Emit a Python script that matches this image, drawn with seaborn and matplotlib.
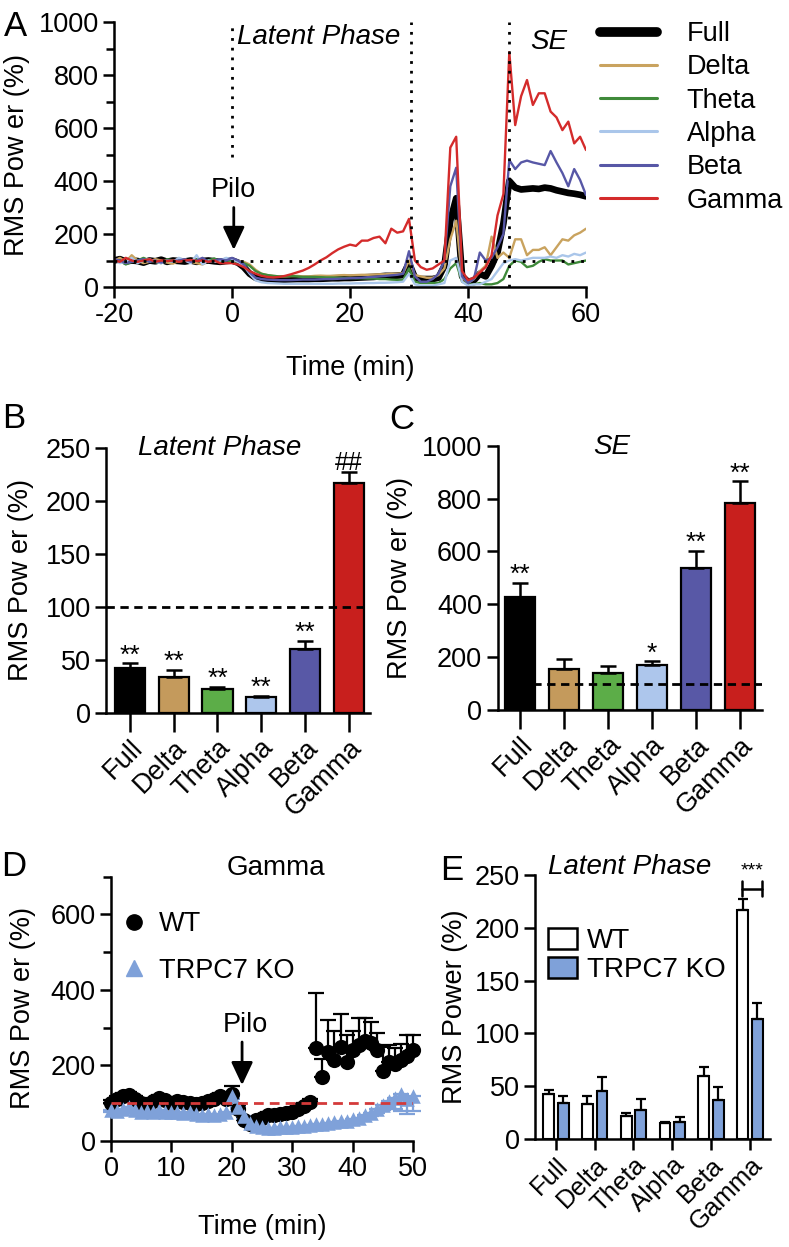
import numpy as np
import pandas as pd
import matplotlib
matplotlib.use('Agg')
import matplotlib.pyplot as plt
import seaborn as sns
from matplotlib.lines import Line2D
from matplotlib.patches import Patch

# ---------------- data ----------------
bands = ['Full', 'Delta', 'Theta', 'Alpha', 'Beta', 'Gamma']
line_colors = ['#000000', '#c9a35f', '#3f8a3a', '#aac6ea', '#5757a6', '#d42b2b']
bar_colors = ['#000000', '#c49a5c', '#5cad48', '#adc6ec', '#5858a6', '#c81f1d']

time_a = list(range(-20, 61))
full_a = [100, 105, 96, 100, 98, 92, 100, 97, 103, 95, 100, 98, 96, 100, 95, 98, 100, 97, 95, 98, 100,
          92, 75, 50, 35, 30, 28, 28, 27, 28, 29, 30, 30, 30, 31, 31, 32, 33, 33, 34, 34, 35, 36, 37, 38, 40, 42, 42, 43, 45,
          90, 35, 30, 30, 30, 35, 80, 250, 335, 40, 20, 25, 50, 40, 80, 130, 240, 400, 375, 368, 370, 372, 370, 375, 372, 365, 360, 355, 352, 348, 342]
delta_a = [98, 110, 95, 120, 100, 90, 95, 105, 100, 92, 88, 100, 105, 95, 90, 85, 100, 95, 102, 90, 95,
           98, 95, 85, 65, 50, 45, 42, 40, 40, 41, 42, 40, 40, 42, 43, 42, 42, 44, 45, 44, 45, 46, 46, 47, 48, 48, 50, 50, 52,
           100, 45, 40, 35, 35, 45, 70, 180, 250, 35, 15, 30, 60, 80, 190, 110, 130, 110, 180, 180, 120, 140, 140, 150, 120, 150, 180, 175, 195, 205, 220]
theta_a = [95, 100, 85, 95, 100, 110, 100, 95, 90, 105, 100, 95, 100, 98, 105, 92, 100, 108, 95, 100, 100,
           95, 90, 80, 60, 50, 45, 42, 40, 40, 42, 40, 38, 38, 38, 37, 36, 36, 35, 34, 34, 33, 33, 32, 32, 30, 30, 28, 27, 26,
           70, 20, 15, 15, 15, 15, 30, 70, 90, 20, 10, 10, 15, 10, 10, 15, 30, 80, 100, 95, 75, 80, 95, 105, 100, 100, 100, 85, 90, 95, 100]
alpha_a = [100, 90, 95, 110, 90, 100, 105, 95, 90, 100, 95, 110, 100, 90, 120, 85, 100, 95, 100, 110, 105,
           95, 80, 50, 25, 18, 15, 14, 13, 12, 12, 12, 12, 12, 12, 12, 12, 12, 13, 13, 13, 14, 14, 15, 15, 16, 16, 17, 18, 20,
           50, 10, 5, 5, 5, 10, 15, 100, 110, 20, 5, 10, 10, 20, 30, 60, 90, 100, 105, 100, 105, 110, 110, 110, 115, 110, 120, 115, 125, 120, 130]
beta_a = [105, 100, 90, 95, 100, 105, 95, 100, 92, 100, 98, 100, 105, 95, 100, 110, 95, 100, 105, 100, 110,
          100, 85, 55, 35, 30, 28, 27, 26, 26, 26, 27, 28, 28, 28, 29, 30, 30, 31, 32, 33, 34, 35, 37, 38, 40, 42, 44, 46, 50,
          135, 40, 20, 20, 30, 50, 100, 380, 450, 40, 15, 30, 130, 100, 110, 150, 200, 479, 445, 470, 477, 470, 465, 460, 513, 470, 430, 380, 445, 404, 347]
gamma_a = [100, 95, 110, 100, 95, 100, 105, 95, 100, 98, 100, 95, 100, 102, 98, 100, 95, 100, 90, 90, 90,
           85, 75, 60, 50, 42, 38, 36, 38, 42, 48, 55, 62, 72, 85, 100, 112, 128, 142, 152, 160, 155, 175, 175, 185, 190, 165, 220, 205, 210,
           257, 100, 75, 65, 70, 85, 100, 526, 567, 60, 26, 35, 55, 75, 120, 270, 350, 886, 611, 720, 781, 687, 731, 731, 662, 640, 592, 624, 542, 567, 517]

latent_mean = [42.5, 33.5, 22, 15, 60, 217]
latent_err = [4, 7, 2.5, 1, 8, 10]
latent_marks = ['**', '**', '**', '**', '**', '##']
se_mean = [429, 154, 141, 170, 538, 784]
se_err = [53, 38, 27, 14, 65, 82]
se_marks = ['**', '', '', '*', '**', '**']

time_d = list(range(0, 51))
wt_d = [100, 110, 118, 122, 112, 100, 95, 105, 115, 108, 100, 105, 102, 100, 98, 100, 105, 112, 118, 110, 125,
        85, 55, 45, 55, 62, 68, 70, 72, 75, 78, 84, 92, 104,
        245, 170, 235, 215, 250, 210, 240, 255, 265, 260, 240, 185, 210, 205, 215, 225, 240]
wt_err = [8, 8, 8, 8, 8, 8, 8, 8, 8, 8, 8, 8, 8, 8, 8, 8, 8, 8, 10, 10, 20,
          8, 8, 8, 8, 8, 8, 8, 8, 8, 8, 8, 8, 8,
          147, 46, 86, 75, 86, 70, 50, 70, 60, 55, 45, 65, 44, 40, 42, 55, 40]
ko_d = [82, 80, 84, 90, 82, 78, 80, 78, 82, 78, 76, 78, 74, 76, 72, 70, 72, 70, 72, 78, 120,
        90, 65, 48, 40, 36, 35, 35, 36, 37, 38, 40, 40, 42, 44, 45, 47, 50, 52, 54, 58, 62, 68, 75, 85, 95, 105, 115, 125, 112, 118]
ko_err = [6, 6, 6, 6, 6, 6, 6, 6, 6, 6, 6, 6, 6, 6, 6, 6, 6, 6, 6, 6, 8,
          6, 6, 6, 6, 6, 6, 6, 6, 6, 6, 6, 6, 6, 6, 6, 6, 6, 6, 6, 6, 6, 6, 8, 10, 12, 20, 30, 45, 40, 38]

genotypes = ['WT', 'TRPC7 KO']
wt_latent = [42.5, 33.5, 22, 15, 60, 217]
wt_latent_err = [4, 7, 2.5, 1, 8, 10]
ko_latent = [34.5, 45, 27, 16, 36.5, 113.5]
ko_latent_err = [6.5, 14, 11, 5, 13, 15]

# ---------------- style ----------------
sns.set_theme(style='ticks')
plt.rcParams['font.family'] = ['Liberation Sans', 'DejaVu Sans']
plt.rcParams.update({
    'axes.unicode_minus': False,
    'axes.linewidth': 1.8, 'axes.edgecolor': 'black',
    'xtick.major.width': 1.8, 'ytick.major.width': 1.8,
    'xtick.minor.width': 1.8, 'ytick.minor.width': 1.8,
    'xtick.major.size': 8, 'ytick.major.size': 8,
    'xtick.minor.size': 6, 'ytick.minor.size': 6,
    'xtick.labelsize': 19.5, 'ytick.labelsize': 19.5,
    'xtick.color': 'black', 'ytick.color': 'black', 'text.color': 'black',
    'xtick.major.pad': 3, 'ytick.major.pad': 3,
})

W, H = 789, 1247
fig = plt.figure(figsize=(W / 100, H / 100), dpi=100)


def box(l, t, r, b):
    return [l / W, 1 - b / H, (r - l) / W, (b - t) / H]


def ftext(x, y, s, **kw):
    fig.text(x / W, 1 - y / H, s, ha='center', va='center', **kw)


def clean(ax):
    sns.despine(ax=ax)
    ax.set_xlabel('')
    ax.set_ylabel('')


dots = (0, (1, 2.5))

# ---------------- Panel A ----------------
axA = fig.add_axes(box(114, 22, 586, 287))
dfA = pd.DataFrame({
    'Time': time_a * 6,
    'Power': full_a + delta_a + theta_a + alpha_a + beta_a + gamma_a,
    'Band': np.repeat(bands, len(time_a)),
})
for b, c in zip(bands, line_colors):
    sns.lineplot(data=dfA[dfA['Band'] == b], x='Time', y='Power', color=c,
                 lw=4.8 if b == 'Full' else 1.7, ax=axA, legend=False)
axA.set_xlim(-20, 60)
axA.set_ylim(0, 1000)
axA.set_xticks([-20, 0, 20, 40, 60])
axA.set_yticks([0, 200, 400, 600, 800, 1000])
axA.set_yticks([100, 300, 500, 700, 900], minor=True)
clean(axA)
axA.plot([-20, 60], [100, 100], ls=dots, color='black', lw=2, zorder=5)
axA.plot([0, 0], [490, 1000], ls=dots, color='black', lw=2, clip_on=False)
axA.plot([30.3, 30.3], [0, 1000], ls=dots, color='black', lw=2, clip_on=False)
axA.plot([47, 47], [0, 1000], ls=dots, color='black', lw=2, clip_on=False)
axA.text(14.7, 943, 'Latent Phase', style='italic', fontsize=20, ha='center', va='center')
axA.text(53.6, 925, 'SE', style='italic', fontsize=20, ha='center', va='center')
axA.text(0.3, 366, 'Pilo', fontsize=19.5, ha='center', va='center')
axA.annotate('', xy=(0.3, 140), xytext=(0.3, 300),
             arrowprops=dict(arrowstyle='-|>,head_length=0.7,head_width=0.33', lw=2,
                             color='black', mutation_scale=20, shrinkA=0, shrinkB=0))
handles = [Line2D([], [], color=c, lw=(7 if b == 'Full' else 2.2)) for b, c in zip(bands, line_colors)]
axA.legend(handles, bands, loc='upper left', bbox_to_anchor=(600 / W, 1 - 21 / H),
           bbox_transform=fig.transFigure, frameon=False, fontsize=19.5,
           handlelength=2.1, handletextpad=1.1, labelspacing=0.27, borderpad=0, borderaxespad=0)

# ---------------- Panel B ----------------
axB = fig.add_axes(box(106.5, 448, 370, 712.7))
sns.barplot(x=bands, y=latent_mean, hue=bands, palette=bar_colors, legend=False, ax=axB,
            width=0.69, edgecolor='black', linewidth=1.6, saturation=1, errorbar=None)
axB.errorbar(range(6), latent_mean, yerr=[np.zeros(6), latent_err], fmt='none', ecolor='black',
             elinewidth=1.8, capsize=6, capthick=1.8, zorder=1)
axB.set_xlim(-0.54, 5.49)
axB.set_ylim(0, 250)
axB.set_yticks([0, 50, 100, 150, 200, 250])
clean(axB)
axB.axhline(100, color='black', ls=(0, (3, 2)), lw=2, zorder=5)
axB.tick_params(axis='x', length=14, pad=2)
for lab in axB.get_xticklabels():
    lab.set_rotation(45); lab.set_ha('right'); lab.set_rotation_mode('anchor')
for i, m in enumerate(latent_marks):
    axB.annotate(m, (i, latent_mean[i] + latent_err[i]), xytext=(0, 2 if m == '##' else 0.5),
                 textcoords='offset points', ha='center', va='baseline', fontsize=19 if m == '**' else 18)
axB.text(2.06, 250, 'Latent Phase', style='italic', fontsize=20, ha='center', va='center')

# ---------------- Panel C ----------------
axC = fig.add_axes(box(497.5, 445.7, 762, 710))
sns.barplot(x=bands, y=se_mean, hue=bands, palette=bar_colors, legend=False, ax=axC,
            width=0.69, edgecolor='black', linewidth=1.6, saturation=1, errorbar=None)
axC.errorbar(range(6), se_mean, yerr=[np.zeros(6), se_err], fmt='none', ecolor='black',
             elinewidth=1.8, capsize=6, capthick=1.8, zorder=1)
axC.set_xlim(-0.51, 5.5)
axC.set_ylim(0, 1000)
axC.set_yticks([0, 200, 400, 600, 800, 1000])
clean(axC)
axC.plot([-0.35, 5.5], [100, 100], color='black', ls=(0, (3, 2)), lw=2, zorder=5)
axC.tick_params(axis='x', length=14, pad=2)
for lab in axC.get_xticklabels():
    lab.set_rotation(45); lab.set_ha('right'); lab.set_rotation_mode('anchor')
for i, m in enumerate(se_marks):
    if m:
        axC.annotate(m, (i, se_mean[i] + se_err[i]), xytext=(0, 0.5), textcoords='offset points',
                     ha='center', va='baseline', fontsize=19)
axC.text(2.09, 995, 'SE', style='italic', fontsize=20, ha='center', va='center')

# ---------------- Panel D ----------------
axD = fig.add_axes(box(111, 876.5, 413, 1141))
axD.plot([0, 50], [100, 100], color='#d43a3a', ls=(0, (3.5, 2.2)), lw=2, zorder=6)
axD.errorbar(time_d, wt_d, yerr=[np.zeros(len(wt_d)), wt_err], fmt='none', ecolor='black',
             elinewidth=1.6, capsize=6, capthick=1.6, zorder=2, clip_on=False)
axD.errorbar(time_d, ko_d, yerr=[ko_err, np.zeros(len(ko_d))], fmt='none', ecolor='#7fa1d9',
             elinewidth=1.6, capsize=6, capthick=1.6, zorder=3, clip_on=False)
dfD = pd.DataFrame({'Time': time_d * 2, 'Power': wt_d + ko_d,
                    'Genotype': np.repeat(genotypes, len(time_d))})
sns.scatterplot(data=dfD[dfD['Genotype'] == 'WT'], x='Time', y='Power', color='black', marker='o',
                s=120, linewidth=0, ax=axD, legend=False, zorder=4, clip_on=False)
sns.scatterplot(data=dfD[dfD['Genotype'] == 'TRPC7 KO'], x='Time', y='Power', color='#7fa1d9', marker='^',
                s=110, linewidth=0, ax=axD, legend=False, zorder=5, clip_on=False)
axD.set_xlim(0, 50)
axD.set_ylim(0, 700)
axD.set_xticks([0, 10, 20, 30, 40, 50])
axD.set_yticks([0, 200, 400, 600])
axD.set_yticks([100, 300, 500, 700], minor=True)
clean(axD)
axD.text(22.2, 307, 'Pilo', fontsize=19.5, ha='center', va='center')
axD.annotate('', xy=(21.7, 148), xytext=(21.7, 262),
             arrowprops=dict(arrowstyle='-|>,head_length=0.7,head_width=0.33', lw=2,
                             color='black', mutation_scale=20, shrinkA=0, shrinkB=0))
hD = [Line2D([], [], marker='o', color='black', ls='', markersize=11),
      Line2D([], [], marker='^', color='#7fa1d9', ls='', markersize=11)]
axD.legend(hD, genotypes, loc='upper left', bbox_to_anchor=(122 / W, 1 - 911 / H),
           bbox_transform=fig.transFigure, frameon=False, fontsize=19.5,
           handlelength=0.9, handletextpad=0.45, labelspacing=0.76, borderpad=0, borderaxespad=0)

# ---------------- Panel E ----------------
axE = fig.add_axes(box(535, 875, 770, 1139))
dfE = pd.DataFrame({'Band': bands * 2, 'Power': wt_latent + ko_latent,
                    'Genotype': np.repeat(genotypes, len(bands))})
sns.barplot(data=dfE, x='Band', y='Power', hue='Genotype', palette=['white', '#7fa1d9'],
            width=0.75, gap=0.25, edgecolor='black', linewidth=1.5, saturation=1,
            errorbar=None, ax=axE, legend=False)
off = 0.1875
xs = np.arange(6)
axE.errorbar(xs - off, wt_latent, yerr=[np.zeros(6), wt_latent_err], fmt='none', ecolor='black',
             elinewidth=1.6, capsize=3.5, capthick=1.6, zorder=1)
axE.errorbar(xs + off, ko_latent, yerr=[np.zeros(6), ko_latent_err], fmt='none', ecolor='black',
             elinewidth=1.6, capsize=3.5, capthick=1.6, zorder=1)
axE.set_xlim(-0.54, 5.52)
axE.set_ylim(0, 250)
axE.set_yticks([0, 50, 100, 150, 200, 250])
clean(axE)
axE.tick_params(axis='x', length=8, pad=2, labelsize=18.5)
for lab in axE.get_xticklabels():
    lab.set_rotation(45); lab.set_ha('right'); lab.set_rotation_mode('anchor')
axE.plot([5 - off - 0.02, 5 + off + 0.12], [237, 237], color='black', lw=1.8, clip_on=False)
for xx in (5 - off - 0.02, 5 + off + 0.12):
    axE.plot([xx, xx], [230, 244], color='black', lw=1.8, clip_on=False)
axE.text(5.05, 246, '***', fontsize=14, ha='center', va='bottom')
axE.text(1.91, 258, 'Latent Phase', style='italic', fontsize=20, ha='center', va='center')
hE = [Patch(facecolor='white', edgecolor='black', lw=1.8),
      Patch(facecolor='#7fa1d9', edgecolor='black', lw=1.8)]
axE.legend(hE, genotypes, loc='upper left', bbox_to_anchor=(548 / W, 1 - 928 / H),
           bbox_transform=fig.transFigure, frameon=False, fontsize=20,
           handlelength=1.05, handleheight=0.8, handletextpad=0.35, labelspacing=0.1,
           borderpad=0, borderaxespad=0)

# ---------------- labels ----------------
ftext(17, 155, 'RMS Pow er (%)', rotation=90, fontsize=19.5)
ftext(350, 368, 'Time (min)', fontsize=19.5)
ftext(21, 580, 'RMS Pow er (%)', rotation=90, fontsize=19.5)
ftext(400, 578, 'RMS Pow er (%)', rotation=90, fontsize=19.5)
ftext(23, 1008, 'RMS Pow er (%)', rotation=90, fontsize=19.5)
ftext(262, 1227, 'Time (min)', fontsize=19.5)
ftext(455, 1007, 'RMS Power (%)', rotation=90, fontsize=19.5)
ftext(276, 868, 'Gamma', fontsize=20)

for s, x, y in [('A', 15, 27), ('B', 14, 418), ('C', 402, 420), ('D', 14, 867), ('E', 452, 870)]:
    ftext(x, y, s, fontsize=25)

fig.savefig('out.png', dpi=100)
